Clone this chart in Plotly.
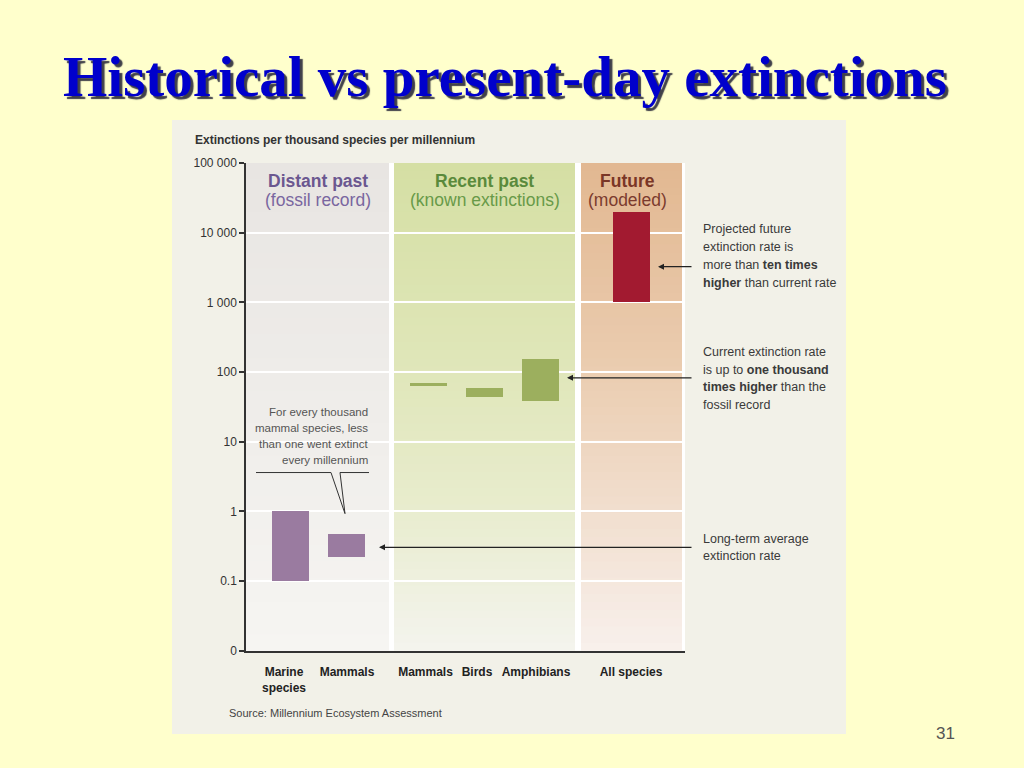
import plotly.graph_objects as go

# ---------------- data ----------------
categories = ["Marine<br>species", "Mammals", "Mammals", "Birds", "Amphibians", "All species"]
periods = ["Distant past", "Distant past", "Recent past", "Recent past", "Recent past", "Future"]
rate_low = [0.1, 0.22, 64, 44, 39, 1000]
rate_high = [1.0, 0.47, 70, 59, 152, 20000]
y_tick_values = [0.01, 0.1, 1, 10, 100, 1000, 10000, 100000]
y_tick_labels = ["0", "0.1", "1", "10", "100", "1 000", "10 000", "100 000"]
band_titles = ["Distant past", "Recent past", "Future"]
band_subtitles = ["(fossil record)", "(known extinctions)", "(modeled)"]

# ---------------- layout / style ----------------
W, H = 1024, 768
# the photographed page appears vertically mapped as y' = SHIFT_Y + SCALE_Y * y
SCALE_Y, SHIFT_Y = 0.98, 7.3
AX_L, AX_R, AX_T, AX_B = 246, 685, 163, 650
bar_x = [44.8, 100.8, 182.3, 238.5, 294.5, 385.3]
label_x = [38, 101, 179.5, 231, 290, 385]
bar_width = 37
period_colors = {"Distant past": "#9A7BA0", "Recent past": "#9CAF5E", "Future": "#A21A30"}
band_x = [(0, 143), (148, 329), (335, 436)]
band_stops = [
    [(0.0, "#F6F5F2"), (0.5, "#EFEDEA"), (1.0, "#E8E5E2")],
    [(0.0, "#F4F4EE"), (0.3, "#E8ECCD"), (0.6, "#DFE6B8"), (1.0, "#D5DFA4")],
    [(0.0, "#F8F0EC"), (0.3, "#F1DECD"), (0.6, "#EACBAE"), (1.0, "#E2B891")],
]
band_title_pos = [(318, "#6B5790", "#7A66A0"), (484.5, "#5A8A3C", "#689A48"), (627, "#7A3626", "#7B3B2E")]

SANS = "Liberation Sans, Arial, sans-serif"
SERIF = "Liberation Serif, Times New Roman, serif"


def px(x):
    return x / W


def py(y):
    yp = (y - SHIFT_Y) / SCALE_Y
    return 1 - yp / H


def hex2rgb(h):
    h = h.lstrip("#")
    return tuple(int(h[i:i + 2], 16) for i in (0, 2, 4))


def interp(stops, t):
    for (t0, c0), (t1, c1) in zip(stops[:-1], stops[1:]):
        if t0 <= t <= t1:
            f = (t - t0) / (t1 - t0) if t1 > t0 else 0
            a, b = hex2rgb(c0), hex2rgb(c1)
            r = [round(a[i] + (b[i] - a[i]) * f) for i in range(3)]
            return "rgb(%d,%d,%d)" % tuple(r)
    return stops[-1][1]


fig = go.Figure()

fig.add_trace(go.Bar(
    x=bar_x,
    y=[h - l for h, l in zip(rate_high, rate_low)],
    base=rate_low,
    width=bar_width,
    marker=dict(color=[period_colors[p] for p in periods], line=dict(width=0)),
    hoverinfo="skip",
    showlegend=False,
))

shapes = []
shapes.append(dict(type="rect", xref="paper", yref="paper", x0=px(172), x1=px(846),
                   y0=py(733), y1=py(120), fillcolor="#F2F1E8", line=dict(width=0), layer="below"))
shapes.append(dict(type="rect", xref="x", yref="y domain", x0=0, x1=439, y0=0, y1=1,
                   fillcolor="white", line=dict(width=0), layer="below"))
N = 60
for (x0, x1), stops in zip(band_x, band_stops):
    for k in range(N):
        t0 = k / N
        t1 = (k + 1) / N
        shapes.append(dict(type="rect", xref="x", yref="y domain", x0=x0, x1=x1,
                           y0=t0, y1=min(1, t1 + 0.004),
                           fillcolor=interp(stops, (t0 + t1) / 2), line=dict(width=0), layer="below"))
pts = [(256, 472), (331, 472), (345, 513), (340, 472), (369, 472)]
path = "M " + " L ".join("%f,%f" % (px(a), py(b)) for a, b in pts)
shapes.append(dict(type="path", xref="paper", yref="paper", path=path,
                   line=dict(color="#333333", width=1)))

annotations = []


def ann(text, x, y, size, color="#333333", xanchor="left", yanchor="middle", family=SANS, shadow=None):
    f = dict(size=size, color=color, family=family)
    if shadow:
        f["shadow"] = shadow
    annotations.append(dict(text=text, x=px(x), y=py(y), xref="paper", yref="paper",
                            xanchor=xanchor, yanchor=yanchor, showarrow=False, font=f))


ann("<b>Historical vs present-day extinctions</b>", 505, 77, 57, "#0000CC", "center", "middle", SERIF,
    shadow="3px 3px 1px rgba(30,30,50,0.85)")
ann("<b>Extinctions per thousand species per millennium</b>", 193, 140, 12, "#333333")
for (cx, c1, c2), t, s in zip(band_title_pos, band_titles, band_subtitles):
    ann("<b>%s</b>" % t, cx, 181, 17.5, c1, "center")
    ann(s, cx, 200, 17.5, c2, "center")
notes = [
    ("Projected future", 229), ("extinction rate is", 247),
    ("more than <b>ten times</b>", 265), ("<b>higher</b> than current rate", 283),
    ("Current extinction rate", 352), ("is up to <b>one thousand</b>", 369.5),
    ("<b>times higher</b> than the", 387), ("fossil record", 404.5),
    ("Long-term average", 538), ("extinction rate", 555),
]
for t, y in notes:
    ann(t, 701, y, 12.5, "#3a3a3a")
for t, y in [("For every thousand", 412), ("mammal species, less", 428),
             ("than one went extinct", 443.5), ("every millennium", 459)]:
    ann(t, 370, y, 11.5, "#555555", "right")
ann("Source: Millennium Ecosystem Assessment", 227, 712.5, 11, "#444444")
ann("31", 945, 732, 17, "#555555", "center")
for hx, hy in [(658, 266.5), (567, 377.5), (379, 546.7)]:
    annotations.append(dict(text="", x=px(hx), y=py(hy), xref="paper", yref="paper",
                            showarrow=True, ax=693 - hx, ay=0, axref="pixel", ayref="pixel",
                            arrowhead=2, arrowsize=1, arrowwidth=1.2, arrowcolor="#222222",
                            standoff=0, startstandoff=0))

fig.update_layout(
    width=W, height=H, autosize=False,
    margin=dict(l=0, r=0, t=0, b=0, pad=0),
    paper_bgcolor="#FFFFCC",
    plot_bgcolor="rgba(0,0,0,0)",
    shapes=shapes,
    annotations=annotations,
    showlegend=False,
    bargap=0,
    xaxis=dict(
        domain=[px(AX_L), px(AX_R)], range=[0, 439], showgrid=False, zeroline=False,
        showline=True, linecolor="#333333", linewidth=1.5, ticks="",
        tickvals=label_x, ticktext=["<b>%s</b>" % c for c in categories],
        tickfont=dict(family=SANS, size=12, color="#222222"), fixedrange=True,
        ticklabelstandoff=9,
    ),
    yaxis=dict(
        domain=[py(AX_B), py(AX_T)], type="log", range=[-2, 5],
        showgrid=True, gridcolor="white", gridwidth=2,
        showline=True, linecolor="#333333", linewidth=1.5,
        ticks="outside", ticklen=5, tickwidth=1.5, tickcolor="#333333",
        tickvals=y_tick_values, ticktext=y_tick_labels,
        tickfont=dict(family=SANS, size=12, color="#333333"), fixedrange=True,
    ),
)

fig.write_html("out.html", config={"displayModeBar": False},
               post_script="document.documentElement.style.margin='0';document.body.style.margin='0';"
                           "document.documentElement.style.background='#FFFFCC';"
                           "document.body.style.background='#FFFFCC';document.body.style.overflow='hidden';")
